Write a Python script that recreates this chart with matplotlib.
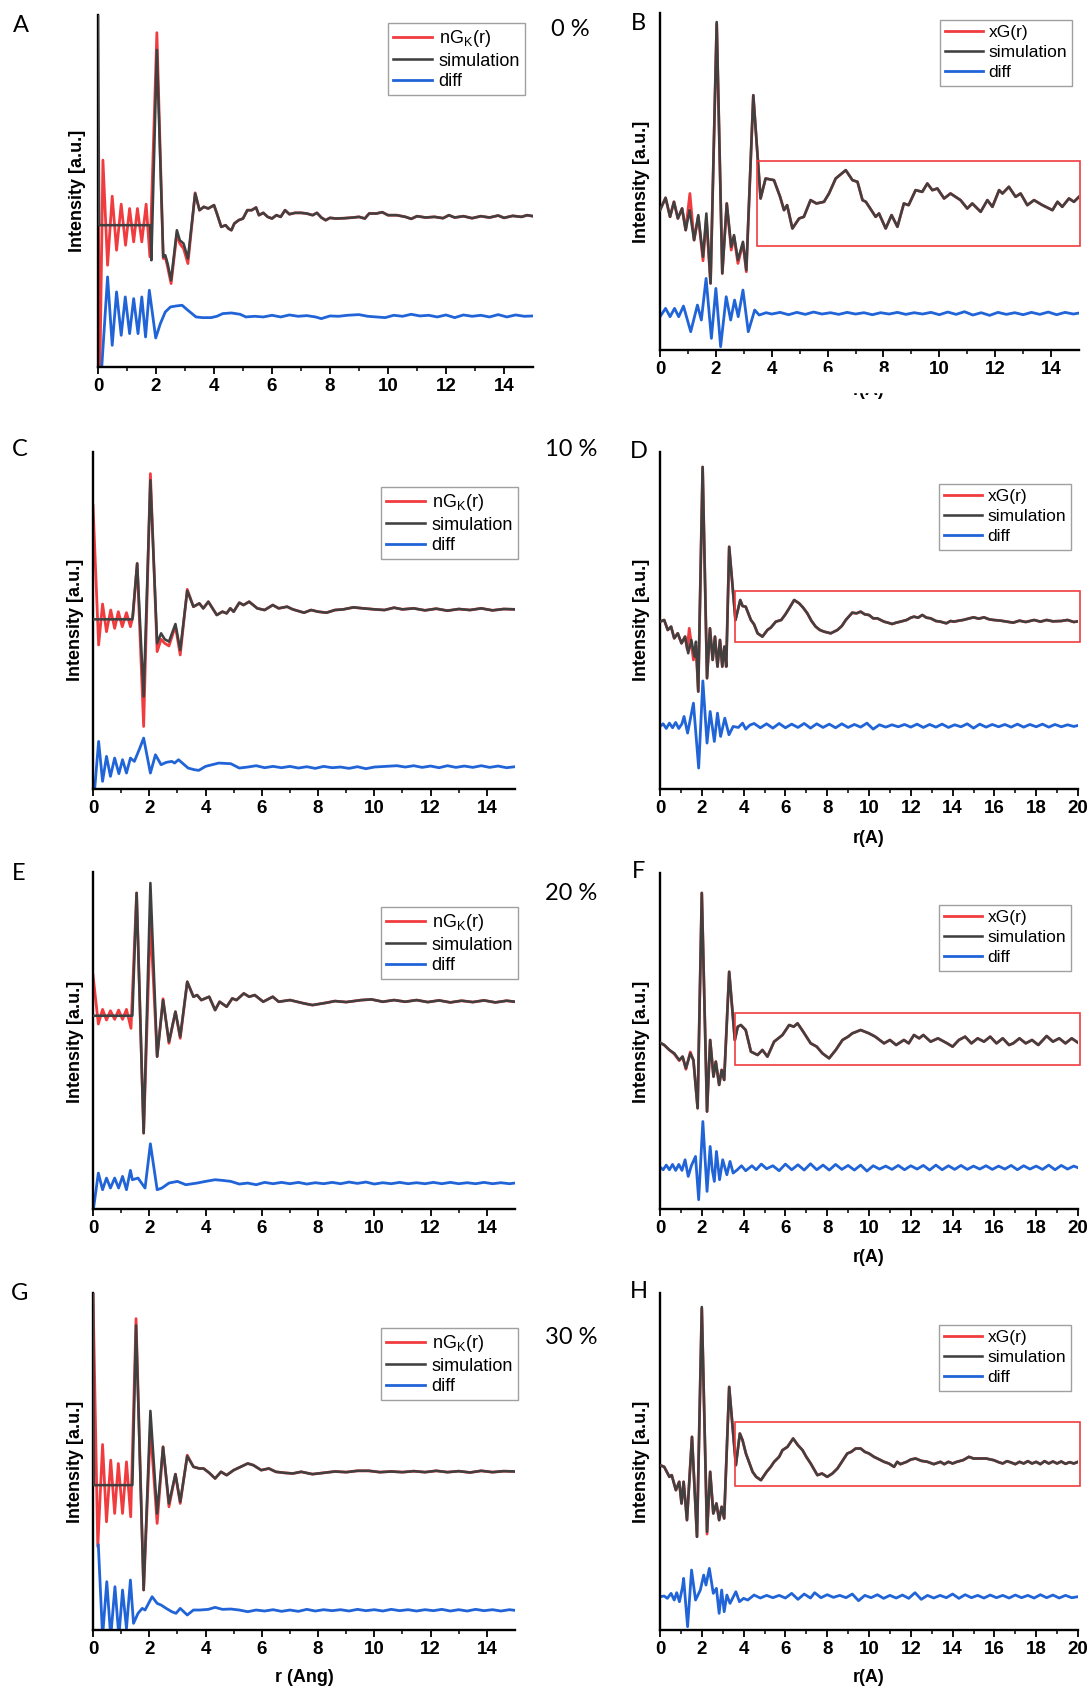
import numpy as np
import matplotlib.pyplot as plt
from matplotlib.patches import Rectangle

plt.rcParams['font.family'] = ['Liberation Sans', 'DejaVu Sans']
plt.rcParams['mathtext.fontset'] = 'custom'
plt.rcParams['mathtext.rm'] = 'Liberation Sans'
plt.rcParams['mathtext.it'] = 'Liberation Sans:italic'

RED = '#f03c3f'
GREY = '#404040'
BLUE = '#2064d8'

# ---- data (r in Angstrom, intensity in arbitrary units) ----
# panel A, 0 %
a_sim = [(0.0, 1055), (0.04, 425), (1.80, 425), (1.84, 320), (2.03, 950), (2.25, 330), (2.32, 335),
         (2.40, 310), (2.52, 260), (2.72, 410), (2.82, 380), (2.95, 370), (3.1, 325), (3.35, 520),
         (3.5, 470), (3.65, 480), (3.8, 475), (4.0, 485), (4.1, 460), (4.25, 420), (4.4, 425),
         (4.5, 415), (4.6, 410), (4.7, 430), (4.85, 440), (5.0, 445), (5.15, 470), (5.3, 470),
         (5.45, 478), (5.55, 455), (5.7, 462), (5.85, 450), (6.0, 445), (6.15, 455), (6.3, 450),
         (6.45, 470), (6.6, 458), (6.8, 462), (7.0, 462), (7.2, 460), (7.4, 455), (7.55, 462),
         (7.7, 448), (7.85, 440), (8.0, 447), (8.2, 445), (8.5, 446), (8.8, 448), (9.0, 450),
         (9.2, 445), (9.35, 460), (9.6, 460), (9.8, 464), (10.0, 455), (10.3, 455), (10.6, 450),
         (10.8, 444), (11.0, 452), (11.3, 448), (11.6, 450), (11.9, 446), (12.1, 455), (12.3, 448),
         (12.6, 452), (12.9, 446), (13.2, 452), (13.5, 448), (13.8, 454), (14.0, 447), (14.3, 453),
         (14.6, 450), (14.8, 455), (15.0, 452)]
a_red_head = [(0.0, 600), (0.06, -40), (0.17, 620), (0.33, 305), (0.49, 512), (0.64, 350), (0.8, 488),
              (0.95, 365), (1.09, 475), (1.23, 375), (1.36, 475), (1.51, 375), (1.66, 488), (1.79, 330),
              (2.03, 1002), (2.25, 325), (2.32, 330), (2.4, 300), (2.52, 250), (2.72, 400), (2.82, 370),
              (2.95, 355), (3.1, 310), (3.35, 522)]
a_diff = [(0.10, -40), (0.33, 270), (0.49, 65), (0.64, 225), (0.8, 95), (0.94, 210), (1.09, 100),
          (1.23, 205), (1.38, 100), (1.51, 210), (1.64, 90), (1.77, 230), (1.99, 87), (2.15, 130),
          (2.32, 165), (2.5, 180), (2.7, 183), (2.9, 185), (3.1, 170), (3.38, 150), (3.6, 148),
          (3.9, 148), (4.1, 152), (4.3, 160), (4.6, 162), (4.9, 158), (5.1, 150), (5.4, 152),
          (5.7, 150), (6.0, 155), (6.3, 150), (6.6, 156), (6.9, 152), (7.2, 154), (7.5, 150),
          (7.7, 145), (8.0, 153), (8.3, 152), (8.6, 155), (9.0, 157), (9.3, 152), (9.6, 150),
          (9.9, 148), (10.2, 155), (10.5, 152), (10.8, 158), (11.1, 153), (11.4, 155), (11.7, 150),
          (12.0, 156), (12.3, 148), (12.6, 156), (12.9, 152), (13.2, 155), (13.5, 150), (13.8, 157),
          (14.1, 150), (14.4, 156), (14.7, 152), (15.0, 153)]

# panel B, 0 %
b_sim = [(0.0, 420), (0.2, 457), (0.36, 400), (0.5, 445), (0.64, 395), (0.79, 425), (0.92, 360),
         (1.06, 420), (1.22, 330), (1.37, 405), (1.54, 280), (1.66, 410), (1.81, 200), (2.03, 985),
         (2.23, 230), (2.39, 440), (2.55, 310), (2.65, 345), (2.79, 270), (2.97, 325), (3.09, 240),
         (3.34, 765), (3.6, 455), (3.78, 515), (4.08, 510), (4.3, 460), (4.44, 420), (4.55, 435),
         (4.74, 365), (4.98, 395), (5.15, 400), (5.39, 450), (5.6, 440), (5.87, 445), (6.05, 470),
         (6.29, 515), (6.65, 540), (6.89, 510), (7.07, 505), (7.25, 450), (7.37, 445), (7.72, 400),
         (7.84, 410), (8.08, 365), (8.29, 405), (8.5, 370), (8.73, 440), (8.9, 435), (9.15, 480),
         (9.39, 475), (9.57, 500), (9.75, 480), (9.93, 485), (10.17, 455), (10.4, 470), (10.76, 450),
         (11.0, 425), (11.18, 440), (11.48, 415), (11.72, 450), (11.9, 430), (12.14, 480), (12.26, 470),
         (12.49, 490), (12.73, 460), (12.91, 470), (13.15, 435), (13.39, 450), (13.69, 435),
         (14.05, 420), (14.23, 445), (14.4, 430), (14.64, 455), (14.82, 445), (15.0, 460)]
b_red_head = [(0.0, 420), (0.2, 457), (0.36, 400), (0.5, 445), (0.64, 395), (0.79, 425), (0.92, 360),
              (1.07, 470), (1.22, 330), (1.37, 400), (1.54, 268), (1.66, 395), (1.81, 200), (2.03, 980),
              (2.23, 230), (2.39, 440), (2.55, 300), (2.65, 340), (2.79, 260), (2.97, 320), (3.09, 235),
              (3.34, 765)]
b_diff = [(0.0, 100), (0.2, 125), (0.36, 100), (0.52, 125), (0.67, 100), (0.84, 132), (1.1, 55),
          (1.34, 135), (1.48, 90), (1.65, 215), (1.84, 35), (2.0, 185), (2.17, 10), (2.37, 160),
          (2.53, 90), (2.67, 150), (2.8, 100), (2.97, 180), (3.16, 55), (3.39, 120), (3.55, 105),
          (3.8, 112), (4.0, 108), (4.3, 113), (4.6, 106), (4.9, 113), (5.2, 107), (5.5, 114),
          (5.8, 108), (6.1, 112), (6.4, 107), (6.7, 113), (7.0, 108), (7.3, 112), (7.6, 106),
          (7.9, 112), (8.2, 108), (8.5, 113), (8.8, 107), (9.1, 112), (9.4, 108), (9.7, 113),
          (10.0, 106), (10.3, 114), (10.6, 107), (10.9, 115), (11.2, 105), (11.5, 112), (11.8, 104),
          (12.1, 113), (12.4, 107), (12.7, 112), (13.0, 106), (13.3, 113), (13.6, 107), (13.9, 114),
          (14.2, 106), (14.5, 113), (14.8, 108), (15.0, 111)]

# panel C, 10 %
c_sim = [(0.0, 510), (1.4, 510), (1.57, 678), (1.8, 278), (2.04, 928), (2.28, 438), (2.42, 468),
         (2.55, 450), (2.7, 443), (2.93, 496), (3.1, 418), (3.35, 596), (3.57, 548), (3.78, 558),
         (3.92, 543), (4.1, 563), (4.4, 523), (4.6, 533), (4.75, 528), (4.88, 543), (5.0, 533),
         (5.2, 560), (5.35, 553), (5.55, 563), (5.84, 543), (6.1, 538), (6.39, 553), (6.6, 543),
         (6.9, 548), (7.1, 540), (7.5, 530), (7.75, 538), (8.0, 533), (8.3, 530), (8.6, 538),
         (8.9, 540), (9.26, 546), (9.6, 543), (10.0, 540), (10.36, 538), (10.7, 545), (11.0, 540),
         (11.4, 543), (11.8, 537), (12.2, 542), (12.6, 536), (13.0, 541), (13.4, 538), (13.8, 543),
         (14.2, 537), (14.6, 541), (15.0, 540)]
c_red_head = [(0.0, 853), (0.2, 433), (0.34, 556), (0.48, 473), (0.63, 538), (0.77, 483), (0.9, 533),
              (1.04, 488), (1.19, 530), (1.33, 488), (1.42, 520), (1.57, 678), (1.8, 188), (2.04, 948),
              (2.28, 413), (2.42, 450), (2.55, 438), (2.7, 430), (2.93, 490), (3.1, 403), (3.35, 600)]
c_diff = [(0.05, -10), (0.2, 143), (0.34, 23), (0.48, 98), (0.62, 38), (0.77, 93), (0.92, 46),
          (1.05, 88), (1.19, 48), (1.33, 93), (1.47, 83), (1.65, 120), (1.8, 153), (2.04, 48),
          (2.22, 103), (2.42, 73), (2.6, 80), (2.8, 83), (2.9, 78), (3.04, 88), (3.38, 63),
          (3.6, 58), (3.76, 56), (4.0, 68), (4.47, 78), (4.9, 76), (5.2, 63), (5.5, 66), (5.8, 70),
          (6.1, 64), (6.4, 68), (6.7, 64), (7.0, 68), (7.3, 63), (7.6, 67), (7.9, 62), (8.2, 68),
          (8.5, 64), (8.8, 66), (9.1, 62), (9.4, 67), (9.7, 61), (10.0, 66), (10.4, 68), (10.8, 70),
          (11.1, 66), (11.4, 70), (11.7, 65), (12.0, 69), (12.3, 64), (12.6, 70), (12.9, 65),
          (13.2, 69), (13.5, 65), (13.8, 70), (14.1, 65), (14.4, 69), (14.7, 64), (15.0, 67)]

# panel D, 10 %
d_sim = [(0.0, 503), (0.2, 508), (0.37, 478), (0.53, 488), (0.68, 453), (0.85, 468), (1.03, 438),
         (1.2, 458), (1.35, 408), (1.5, 448), (1.65, 398), (1.72, 443), (1.83, 293), (2.04, 968),
         (2.25, 333), (2.39, 483), (2.52, 388), (2.63, 458), (2.75, 368), (2.87, 448), (2.98, 368),
         (3.08, 428), (3.17, 368), (3.31, 728), (3.61, 508), (3.84, 568), (3.95, 550), (4.1, 548),
         (4.35, 508), (4.5, 495), (4.67, 468), (4.9, 458), (5.14, 478), (5.3, 485), (5.54, 503),
         (5.8, 508), (6.0, 525), (6.18, 543), (6.42, 568), (6.66, 558), (6.85, 545), (7.05, 528),
         (7.25, 505), (7.45, 488), (7.65, 478), (7.85, 473), (8.17, 468), (8.49, 478), (8.7, 490),
         (8.89, 508), (9.2, 530), (9.4, 528), (9.6, 533), (9.8, 525), (10.0, 523), (10.2, 513),
         (10.4, 513), (10.72, 503), (10.9, 500), (11.11, 496), (11.3, 500), (11.5, 503), (11.8, 508),
         (12.0, 515), (12.15, 518), (12.35, 515), (12.55, 523), (12.75, 515), (12.95, 513),
         (13.2, 505), (13.42, 503), (13.7, 498), (13.9, 505), (14.06, 503), (14.3, 506), (14.5, 508),
         (14.75, 512), (15.0, 516), (15.25, 512), (15.5, 516), (15.75, 510), (15.97, 508),
         (16.3, 506), (16.6, 503), (16.9, 500), (17.2, 506), (17.5, 502), (17.9, 508), (18.2, 503),
         (18.5, 508), (18.8, 504), (19.2, 505), (19.5, 508), (19.8, 502), (20.0, 504)]
d_red_head = [(0.0, 503), (0.2, 508), (0.37, 478), (0.53, 488), (0.68, 453), (0.85, 468), (1.03, 438),
              (1.2, 458), (1.3, 420), (1.4, 483), (1.6, 388), (1.72, 430), (1.83, 293), (2.04, 968),
              (2.25, 333)]
d_diff = [(0.0, 188), (0.15, 196), (0.3, 182), (0.45, 198), (0.6, 184), (0.75, 200), (0.9, 182),
          (1.05, 196), (1.15, 218), (1.32, 168), (1.6, 258), (1.85, 63), (2.05, 325), (2.25, 138),
          (2.4, 233), (2.6, 143), (2.75, 228), (2.9, 158), (3.1, 213), (3.3, 163), (3.5, 188),
          (3.75, 185), (3.95, 198), (4.1, 180), (4.3, 192), (4.5, 197), (4.8, 184), (5.1, 196),
          (5.4, 183), (5.7, 197), (6.0, 184), (6.3, 195), (6.6, 185), (6.9, 197), (7.2, 183),
          (7.5, 196), (7.8, 185), (8.1, 195), (8.4, 184), (8.7, 196), (9.0, 185), (9.3, 194),
          (9.6, 186), (9.9, 198), (10.2, 180), (10.5, 193), (10.8, 186), (11.1, 193), (11.4, 187),
          (11.7, 194), (12.0, 186), (12.3, 195), (12.6, 185), (12.9, 194), (13.2, 186), (13.5, 195),
          (13.8, 185), (14.1, 193), (14.4, 187), (14.7, 196), (15.0, 183), (15.3, 195), (15.6, 186),
          (15.9, 194), (16.2, 187), (16.5, 194), (16.8, 186), (17.1, 195), (17.4, 186), (17.7, 194),
          (18.0, 187), (18.3, 195), (18.6, 186), (18.9, 194), (19.2, 187), (19.5, 193), (19.8, 188),
          (20.0, 191)]

# panel E, 20 %
e_sim = [(0.0, 581), (1.4, 581), (1.55, 950), (1.8, 228), (2.04, 980), (2.28, 458), (2.49, 628),
         (2.7, 503), (2.93, 593), (3.1, 518), (3.35, 683), (3.57, 638), (3.7, 643), (3.85, 628),
         (4.13, 638), (4.34, 598), (4.5, 623), (4.75, 608), (4.95, 633), (5.1, 628), (5.36, 648),
         (5.55, 638), (5.75, 643), (6.05, 623), (6.39, 638), (6.6, 623), (7.0, 628), (7.5, 618),
         (7.8, 613), (8.3, 620), (8.6, 625), (9.0, 622), (9.54, 628), (9.9, 630), (10.3, 623),
         (10.7, 628), (11.1, 623), (11.5, 628), (11.9, 622), (12.3, 627), (12.7, 621), (13.1, 626),
         (13.5, 622), (13.9, 627), (14.3, 621), (14.7, 626), (15.0, 623)]
e_red_head = [(0.0, 703), (0.19, 556), (0.34, 600), (0.48, 568), (0.62, 596), (0.77, 570), (0.91, 598),
              (1.05, 570), (1.19, 600), (1.35, 543), (1.55, 950), (1.8, 228), (2.04, 868), (2.28, 458),
              (2.49, 632), (2.7, 498), (2.93, 593), (3.1, 513), (3.35, 683)]
e_diff = [(0.0, -10), (0.19, 108), (0.34, 58), (0.48, 93), (0.62, 63), (0.77, 93), (0.91, 63),
          (1.05, 98), (1.19, 58), (1.33, 116), (1.4, 88), (1.6, 93), (1.85, 63), (2.04, 196),
          (2.28, 58), (2.45, 63), (2.7, 78), (3.0, 83), (3.3, 73), (3.7, 78), (4.0, 83), (4.34, 88),
          (4.6, 86), (4.9, 83), (5.2, 75), (5.5, 78), (5.8, 73), (6.1, 80), (6.4, 76), (6.7, 80),
          (7.0, 76), (7.3, 80), (7.6, 75), (7.9, 79), (8.2, 76), (8.5, 80), (8.8, 76), (9.1, 81),
          (9.4, 77), (9.7, 81), (10.0, 75), (10.3, 79), (10.6, 76), (10.9, 80), (11.2, 76),
          (11.5, 79), (11.8, 76), (12.1, 80), (12.4, 76), (12.7, 80), (13.0, 76), (13.3, 79),
          (13.6, 76), (13.9, 80), (14.2, 76), (14.5, 79), (14.8, 76), (15.0, 78)]

# panel F, 20 %
f_sim = [(0.0, 500), (0.2, 493), (0.45, 478), (0.68, 468), (0.92, 448), (1.08, 458), (1.24, 423),
         (1.45, 468), (1.6, 448), (1.8, 303), (2.0, 950), (2.25, 293), (2.4, 508), (2.56, 398),
         (2.67, 443), (2.83, 373), (2.95, 418), (3.07, 388), (3.31, 713), (3.58, 508), (3.72, 548),
         (3.87, 553), (4.1, 538), (4.35, 473), (4.67, 463), (4.9, 478), (5.14, 458), (5.46, 503),
         (5.86, 523), (6.18, 553), (6.4, 548), (6.58, 558), (6.8, 538), (7.21, 498), (7.5, 488),
         (7.77, 468), (8.09, 453), (8.41, 478), (8.73, 508), (9.0, 518), (9.2, 528), (9.6, 538),
         (10.0, 528), (10.3, 518), (10.72, 498), (11.0, 508), (11.3, 493), (11.67, 508), (11.9, 498),
         (12.15, 523), (12.4, 513), (12.6, 523), (12.95, 503), (13.3, 513), (13.74, 498), (14.0, 488),
         (14.3, 508), (14.6, 518), (14.9, 498), (15.2, 513), (15.5, 503), (15.8, 518), (16.1, 498),
         (16.4, 513), (16.7, 493), (16.9, 498), (17.2, 513), (17.5, 498), (17.8, 508), (18.1, 493),
         (18.5, 520), (18.8, 503), (19.1, 513), (19.4, 498), (19.7, 513), (20.0, 500)]
f_red_head = [(0.0, 500), (0.2, 493), (0.45, 478), (0.68, 466), (0.92, 446), (1.08, 458), (1.24, 420),
              (1.45, 472), (1.6, 446), (1.8, 303), (2.0, 950)]
f_diff = [(0.0, 126), (0.15, 118), (0.3, 132), (0.45, 118), (0.6, 134), (0.75, 116), (0.9, 134),
          (1.05, 116), (1.2, 148), (1.35, 98), (1.5, 130), (1.7, 158), (1.85, 28), (2.05, 263),
          (2.25, 53), (2.4, 188), (2.5, 118), (2.6, 83), (2.7, 173), (2.85, 88), (3.0, 148),
          (3.2, 103), (3.35, 143), (3.5, 108), (3.7, 118), (3.9, 130), (4.1, 115), (4.4, 130),
          (4.6, 118), (4.85, 135), (5.1, 121), (5.4, 130), (5.7, 115), (6.0, 135), (6.3, 118),
          (6.6, 133), (6.9, 117), (7.2, 136), (7.5, 118), (7.8, 132), (8.1, 117), (8.4, 134),
          (8.7, 119), (9.0, 131), (9.3, 117), (9.6, 132), (9.9, 114), (10.2, 130), (10.5, 120),
          (10.8, 129), (11.1, 119), (11.4, 131), (11.7, 118), (12.0, 130), (12.3, 120), (12.6, 131),
          (12.9, 117), (13.2, 132), (13.5, 118), (13.8, 130), (14.1, 119), (14.4, 131), (14.7, 119),
          (15.0, 129), (15.3, 120), (15.6, 130), (15.9, 119), (16.2, 129), (16.5, 120), (16.8, 131),
          (17.1, 118), (17.4, 130), (17.7, 120), (18.0, 129), (18.3, 119), (18.6, 132), (18.9, 118),
          (19.2, 131), (19.5, 120), (19.8, 129), (20.0, 124)]

# panel G, 30 %
g_sim = [(0.0, 1012), (0.03, 435), (1.4, 435), (1.53, 915), (1.8, 120), (2.04, 658), (2.28, 350),
         (2.49, 550), (2.7, 380), (2.93, 468), (3.1, 385), (3.35, 522), (3.57, 490), (3.78, 485),
         (3.93, 485), (4.13, 472), (4.34, 455), (4.55, 475), (4.75, 465), (5.0, 480), (5.25, 490),
         (5.5, 500), (5.7, 495), (5.98, 480), (6.25, 485), (6.5, 475), (6.8, 472), (7.1, 470),
         (7.4, 475), (7.8, 468), (8.2, 472), (8.6, 476), (9.0, 474), (9.4, 478), (9.8, 478),
         (10.2, 474), (10.6, 476), (11.0, 474), (11.4, 477), (11.8, 474), (12.2, 478), (12.6, 474),
         (13.0, 477), (13.4, 473), (13.8, 478), (14.2, 474), (14.6, 477), (15.0, 476)]
g_red_head = [(0.0, 1012), (0.17, 250), (0.34, 557), (0.48, 325), (0.63, 510), (0.77, 350), (0.9, 500),
              (1.05, 350), (1.19, 505), (1.34, 340), (1.53, 935), (1.8, 120), (2.04, 605), (2.28, 320),
              (2.49, 550), (2.7, 370), (2.93, 468), (3.1, 380), (3.35, 525)]
g_diff = [(0.19, 255), (0.34, -20), (0.49, 145), (0.63, -20), (0.78, 130), (0.92, -20), (1.05, 120),
          (1.19, 5), (1.33, 150), (1.44, 20), (1.6, 50), (1.75, 65), (1.85, 60), (2.1, 100),
          (2.28, 80), (2.42, 75), (2.6, 65), (2.8, 55), (2.95, 50), (3.1, 65), (3.35, 45), (3.57, 60),
          (3.8, 60), (4.1, 62), (4.34, 68), (4.6, 62), (4.9, 63), (5.2, 60), (5.5, 55), (5.8, 60),
          (6.1, 57), (6.4, 61), (6.7, 56), (7.0, 60), (7.3, 56), (7.6, 62), (7.9, 57), (8.2, 61),
          (8.5, 58), (8.8, 61), (9.1, 57), (9.4, 62), (9.7, 58), (10.0, 61), (10.3, 57), (10.6, 62),
          (10.9, 58), (11.2, 61), (11.5, 57), (11.8, 61), (12.1, 58), (12.4, 62), (12.7, 57),
          (13.0, 61), (13.3, 57), (13.6, 62), (13.9, 58), (14.2, 61), (14.5, 57), (14.8, 61),
          (15.0, 59)]

# panel H, 30 %
h_sim = [(0.0, 495), (0.2, 490), (0.45, 460), (0.56, 465), (0.76, 420), (0.92, 445), (1.03, 380),
         (1.13, 445), (1.29, 330), (1.53, 580), (1.77, 280), (2.0, 970), (2.25, 295), (2.4, 475),
         (2.55, 350), (2.7, 380), (2.83, 330), (2.95, 370), (3.07, 335), (3.31, 730), (3.63, 495),
         (3.82, 590), (3.95, 570), (4.11, 530), (4.43, 475), (4.6, 460), (4.83, 450), (5.1, 475),
         (5.3, 490), (5.46, 505), (5.7, 520), (5.86, 540), (6.1, 550), (6.37, 575), (6.6, 555),
         (6.82, 540), (7.0, 520), (7.21, 500), (7.53, 465), (7.75, 470), (8.0, 460), (8.25, 470),
         (8.49, 485), (8.7, 505), (8.96, 530), (9.15, 535), (9.36, 545), (9.6, 545), (9.8, 535),
         (10.0, 530), (10.24, 520), (10.5, 512), (10.72, 505), (10.95, 500), (11.2, 490),
         (11.35, 505), (11.5, 498), (11.8, 505), (12.0, 512), (12.23, 515), (12.5, 508), (12.8, 505),
         (13.1, 498), (13.42, 505), (13.6, 498), (13.8, 505), (14.0, 500), (14.2, 505), (14.5, 510),
         (14.78, 520), (15.0, 515), (15.2, 515), (15.6, 515), (15.97, 510), (16.2, 504), (16.4, 500),
         (16.6, 507), (16.8, 503), (17.0, 498), (17.2, 505), (17.4, 500), (17.6, 507), (17.8, 500),
         (18.0, 505), (18.2, 498), (18.4, 507), (18.6, 500), (18.8, 506), (19.0, 500), (19.2, 506),
         (19.4, 499), (19.6, 504), (19.8, 500), (20.0, 505)]
h_red_head = [(0.0, 495), (0.2, 490), (0.45, 460), (0.56, 465), (0.76, 420), (0.92, 445), (1.03, 380),
              (1.13, 445), (1.29, 330), (1.53, 580), (1.77, 280), (2.0, 965), (2.25, 288)]
h_diff = [(0.0, 100), (0.2, 102), (0.35, 95), (0.53, 110), (0.68, 90), (0.8, 112), (0.93, 85),
          (1.08, 130), (1.13, 155), (1.32, 10), (1.51, 180), (1.7, 90), (1.93, 120), (2.09, 165),
          (2.2, 135), (2.36, 185), (2.55, 110), (2.7, 125), (2.83, 50), (2.95, 120), (3.07, 55),
          (3.2, 105), (3.35, 80), (3.63, 115), (3.8, 85), (4.0, 95), (4.2, 90), (4.5, 105),
          (4.8, 96), (5.1, 104), (5.4, 97), (5.7, 104), (6.0, 96), (6.3, 110), (6.6, 92), (6.9, 108),
          (7.2, 96), (7.4, 112), (7.7, 97), (8.0, 106), (8.3, 98), (8.6, 104), (8.9, 97), (9.2, 108),
          (9.5, 88), (9.8, 104), (10.1, 97), (10.4, 106), (10.7, 95), (11.0, 104), (11.3, 96),
          (11.6, 105), (11.9, 95), (12.2, 112), (12.5, 92), (12.8, 104), (13.1, 96), (13.4, 104),
          (13.7, 97), (14.0, 108), (14.3, 95), (14.6, 106), (14.9, 97), (15.2, 104), (15.5, 96),
          (15.8, 105), (16.1, 97), (16.4, 104), (16.7, 96), (17.0, 105), (17.3, 97), (17.6, 104),
          (17.9, 96), (18.2, 106), (18.5, 97), (18.8, 105), (19.1, 96), (19.4, 104), (19.7, 97),
          (20.0, 100)]

# red boxes marking the medium-range region (r_min, r_max, I_min, I_max)
b_box = (3.46, 15.04, 313, 568)
d_box = (3.58, 20.08, 441, 596)
f_box = (3.58, 20.08, 433, 588)
h_box = (3.58, 20.08, 433, 625)

W, H = 1092, 1693
fig = plt.figure(figsize=(W / 100, H / 100), dpi=100)


def fig_xy(x, y):
    return x / W, 1 - y / H


def draw_panel(box, xmax, ytop, sim, red_head, diff, exp_label, rbox=None):
    left, right, top, bottom = box
    ax = fig.add_axes([left / W, 1 - bottom / H, (right - left) / W, (bottom - top) / H])
    r_cut = red_head[-1][0]
    red = red_head + [p for p in sim if p[0] > r_cut]
    red = np.array(red).T
    sim = np.array(sim).T
    diff = np.array(diff).T
    ax.plot(red[0], red[1], color=RED, lw=2.0, label=exp_label, zorder=2)
    ax.plot(sim[0], sim[1], color=GREY, lw=1.85, label='simulation', zorder=3)
    ax.plot(diff[0], diff[1], color=BLUE, lw=2.0, label='diff', zorder=2)
    if rbox is not None:
        r0, r1, y0, y1 = rbox
        ax.add_patch(Rectangle((r0, y0), r1 - r0, y1 - y0, fill=False, ec=RED, lw=1.2,
                               clip_on=False, zorder=4))
    ax.set_xlim(0, xmax)
    ax.set_ylim(0, ytop)
    ax.set_xticks(np.arange(0, xmax + 1, 2))
    ax.set_xticks(np.arange(1, xmax, 2), minor=True)
    ax.set_yticks([])
    for s in ['top', 'right']:
        ax.spines[s].set_visible(False)
    for s in ['left', 'bottom']:
        ax.spines[s].set_linewidth(1.7)
    ax.tick_params(axis='x', which='major', direction='out', length=5, width=1.3,
                   labelsize=13.5, pad=3)
    ax.tick_params(axis='x', which='minor', direction='out', length=3, width=1.1)
    for t in ax.get_xticklabels():
        t.set_fontweight('bold')
    return ax


def add_legend(ax, lx, ty, fs, gap):
    ax.legend(loc='upper left', bbox_to_anchor=fig_xy(lx, ty), bbox_transform=fig.transFigure,
              fontsize=fs, frameon=True, fancybox=False, edgecolor='#a0a0a0', framealpha=1,
              borderpad=0.3, labelspacing=gap, handlelength=2.15, handletextpad=0.35,
              borderaxespad=0)


nGK = r'nG$_\mathrm{K}$(r)'
xG = 'xG(r)'

axA = draw_panel((98, 533, 15, 367), 15, 1055, a_sim, a_red_head, a_diff, nGK)
axB = draw_panel((660, 1079, 13, 350), 15, 1012, b_sim, b_red_head, b_diff, xG, b_box)
axC = draw_panel((93, 515, 452, 789), 15, 1013, c_sim, c_red_head, c_diff, nGK)
axD = draw_panel((660, 1078, 452, 789), 20, 1013, d_sim, d_red_head, d_diff, xG, d_box)
axE = draw_panel((93, 515, 872, 1209), 15, 1013, e_sim, e_red_head, e_diff, nGK)
axF = draw_panel((660, 1078, 873, 1209), 20, 1010, f_sim, f_red_head, f_diff, xG, f_box)
axG = draw_panel((93, 515, 1293, 1630), 15, 1012, g_sim, g_red_head, g_diff, nGK)
axH = draw_panel((660, 1078, 1293, 1630), 20, 1012, h_sim, h_red_head, h_diff, xG, h_box)

add_legend(axA, 388, 23, 13, 0.18)
add_legend(axB, 940, 20, 12.5, 0.28)
add_legend(axC, 381, 487, 13, 0.18)
add_legend(axD, 939, 484, 12.5, 0.28)
add_legend(axE, 381, 907, 13, 0.18)
add_legend(axF, 939, 905, 12.5, 0.28)
add_legend(axG, 381, 1328, 13, 0.18)
add_legend(axH, 939, 1325, 12.5, 0.28)

# y labels
for x, y in [(77, 191), (75, 620), (75, 1042), (75, 1462),
             (641, 182), (641, 620), (641, 1042), (641, 1462)]:
    fig.text(*fig_xy(x, y), 'Intensity [a.u.]', rotation=90, ha='center', va='center',
             fontsize=13, fontweight='bold')

# x labels
for x, y, s in [(869, 838, 'r(A)'), (869, 1258, 'r(A)'), (869, 1678, 'r(A)'), (304, 1678, 'r (Ang)')]:
    fig.text(*fig_xy(x, y), s, ha='center', va='center', fontsize=13, fontweight='bold')
# panel B label is mostly hidden behind the row below in the original
fig.text(*fig_xy(869, 399), 'r(A)', ha='center', va='bottom', fontsize=13, fontweight='bold')
fig.patches.append(Rectangle(fig_xy(820, 392), 100 / W, 20 / H, transform=fig.transFigure,
                             color='white', zorder=10))

# panel letters and composition labels
for x, y, s in [(21, 25, 'A'), (638, 23, 'B'), (20, 450, 'C'), (639, 452, 'D'),
                (19, 873, 'E'), (639, 872, 'F'), (20, 1293, 'G'), (639, 1292, 'H')]:
    fig.text(*fig_xy(x, y), s, ha='center', va='center', fontsize=17, family=['Lato', 'DejaVu Sans'])
for x, y, s in [(570, 30, '0 %'), (571, 450, '10 %'), (571, 893, '20 %'), (571, 1338, '30 %')]:
    fig.text(*fig_xy(x, y), s, ha='center', va='center', fontsize=17, family=['Lato', 'DejaVu Sans'])

fig.savefig('out.png', dpi=100)
